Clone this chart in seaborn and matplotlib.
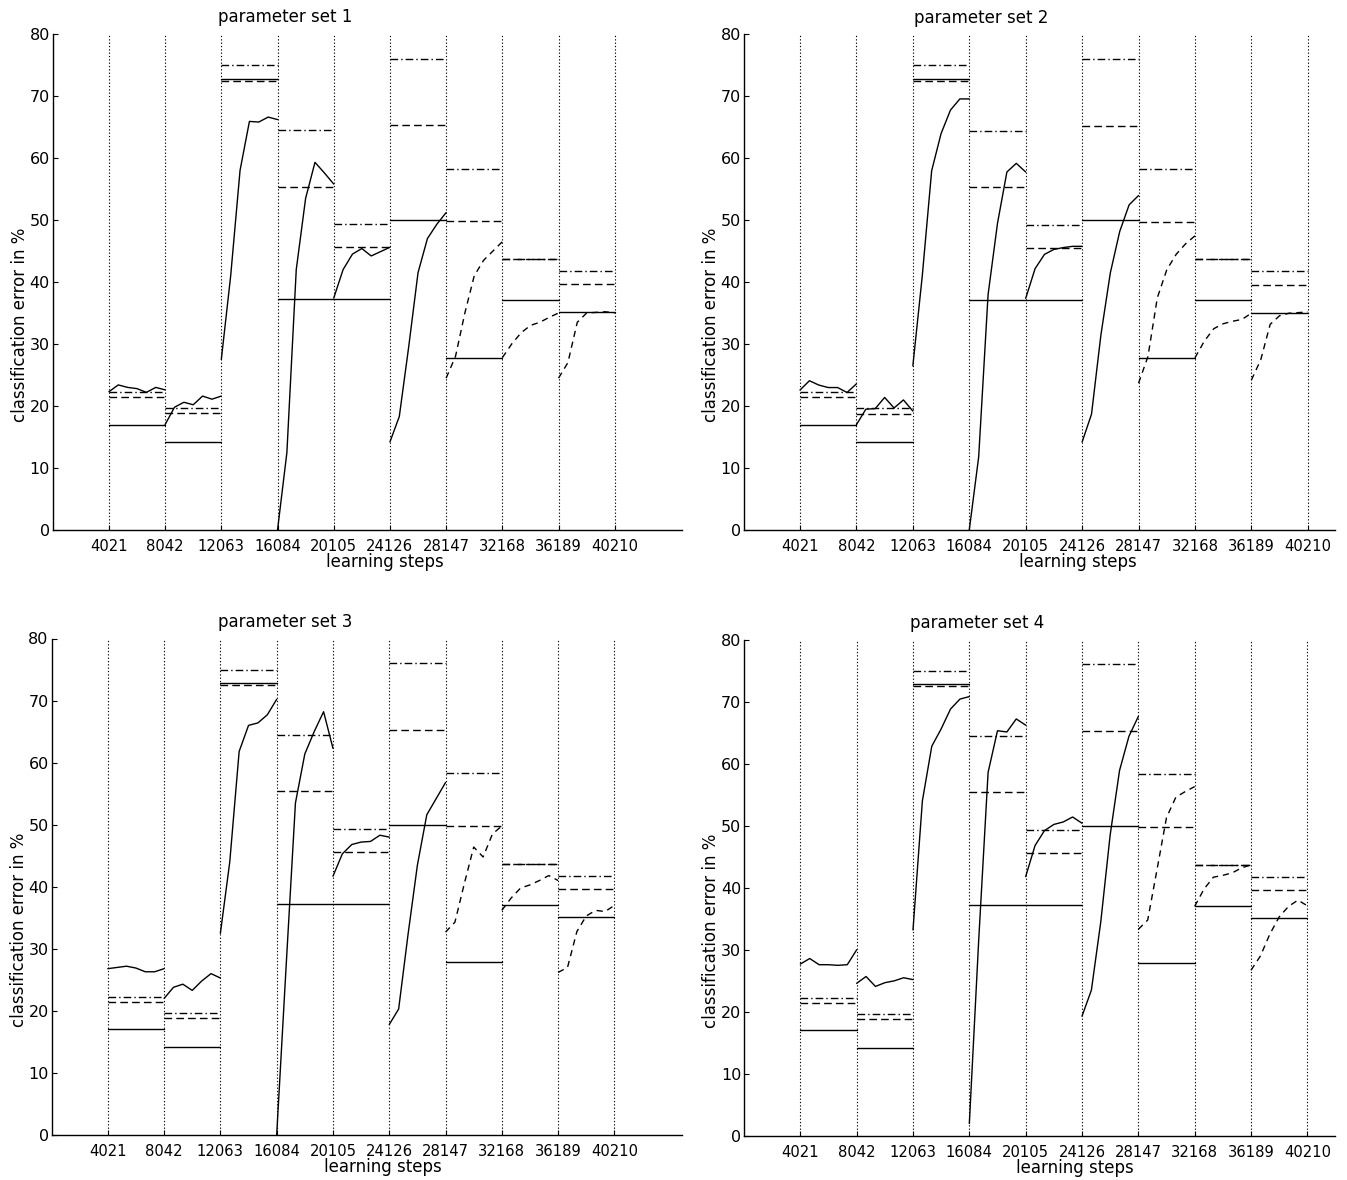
import matplotlib
matplotlib.use("Agg")
import matplotlib.pyplot as plt
import numpy as np
import pandas as pd
import seaborn as sns

# Learning-step boundaries of the training phases (x ticks)
phase_edges = [4021, 8042, 12063, 16084, 20105, 24126, 28147, 32168, 36189, 40210]
tick_labels = ["4021", "8042", "12063", "16084", "20105",
               "24126", "28147", "32168", "36189", "40210"]

# Reference error levels (%) for each of the nine phases
ref_solid = [17.0, 14.2, 72.8, 37.2, 37.2, 50.0, 27.8, 37.1, 35.1]
ref_dashed = [21.5, 18.8, 72.5, 55.4, 45.6, 65.3, 49.8, 43.7, 39.6]
ref_dashdot = [22.3, 19.7, 75.0, 64.5, 49.3, 76.0, 58.3, 43.7, 41.8]

# Line style of the learning curve in each phase
curve_kind = ["curve"] * 6 + ["curve_dashed"] * 3

# Classification error (%) during learning, seven evaluations per phase
set1_curves = [
    [22.3, 23.4, 23.0, 22.8, 22.2, 23.0, 22.6],
    [17.0, 19.8, 20.6, 20.2, 21.6, 21.1, 21.6],
    [27.5, 41.0, 58.0, 65.9, 65.8, 66.6, 66.2],
    [0.0, 12.5, 42.0, 53.5, 59.3, 57.6, 55.8],
    [37.4, 42.0, 44.5, 45.4, 44.2, 44.9, 45.6],
    [14.2, 18.3, 29.5, 41.5, 47.0, 49.3, 51.2],
    [24.5, 28.0, 35.0, 41.0, 43.5, 45.0, 46.5],
    [27.8, 30.0, 31.8, 33.0, 33.5, 34.3, 35.0],
    [24.5, 27.0, 33.5, 35.0, 35.1, 35.2, 35.0],
]
set2_curves = [
    [22.6, 24.1, 23.4, 23.0, 23.0, 22.2, 23.6],
    [17.0, 19.5, 19.6, 21.4, 19.7, 21.0, 19.2],
    [26.5, 41.0, 58.0, 64.0, 67.8, 69.6, 69.6],
    [0.0, 11.8, 38.0, 49.5, 57.8, 59.2, 57.8],
    [37.4, 42.2, 44.5, 45.3, 45.6, 45.8, 45.8],
    [14.2, 18.7, 31.5, 41.5, 48.2, 52.5, 54.0],
    [23.7, 28.0, 37.5, 42.0, 44.5, 46.2, 47.5],
    [27.8, 30.5, 32.5, 33.3, 33.7, 34.0, 35.0],
    [24.2, 27.5, 33.2, 34.6, 35.0, 35.1, 35.2],
]
set3_curves = [
    [26.8, 27.0, 27.2, 26.9, 26.3, 26.3, 26.8],
    [22.0, 23.8, 24.3, 23.3, 24.8, 26.0, 25.3],
    [32.5, 44.0, 61.8, 66.0, 66.4, 67.7, 70.2],
    [0.0, 27.0, 53.5, 61.4, 65.0, 68.2, 62.3],
    [41.7, 45.3, 46.8, 47.2, 47.3, 48.3, 48.0],
    [17.8, 20.3, 32.3, 43.5, 51.6, 54.2, 56.8],
    [32.7, 34.3, 40.5, 46.4, 44.8, 48.5, 49.8],
    [36.2, 38.2, 39.8, 40.3, 41.0, 41.8, 41.0],
    [26.2, 27.0, 32.8, 35.3, 36.2, 36.0, 37.0],
]
set4_curves = [
    [27.7, 28.6, 27.6, 27.6, 27.5, 27.6, 30.0],
    [24.6, 25.7, 24.1, 24.7, 25.0, 25.5, 25.2],
    [33.2, 54.0, 62.8, 65.6, 68.8, 70.4, 70.8],
    [2.0, 31.6, 58.6, 65.3, 65.1, 67.2, 66.2],
    [41.8, 46.8, 49.2, 50.2, 50.6, 51.4, 50.4],
    [19.3, 23.5, 34.5, 48.5, 58.9, 64.4, 67.6],
    [33.3, 34.8, 43.0, 51.3, 54.6, 55.5, 56.3],
    [37.0, 39.8, 41.7, 42.0, 42.4, 43.2, 43.7],
    [26.7, 29.0, 32.5, 35.3, 37.0, 38.0, 37.1],
]

titles = ["parameter set 1", "parameter set 2", "parameter set 3", "parameter set 4"]
all_curves = [set1_curves, set2_curves, set3_curves, set4_curves]


def build_frame(curves):
    rows = []
    refs = (("ref_solid", ref_solid), ("ref_dashed", ref_dashed), ("ref_dashdot", ref_dashdot))
    for i in range(len(phase_edges) - 1):
        x0, x1 = phase_edges[i], phase_edges[i + 1]
        for kind, vals in refs:
            for x in (x0, x1):
                rows.append({"step": x, "error": vals[i], "kind": kind, "unit": f"{kind}_{i}"})
        steps = np.linspace(x0, x1, len(curves[i]))
        for x, y in zip(steps, curves[i]):
            rows.append({"step": x, "error": y, "kind": curve_kind[i], "unit": f"curve_{i}"})
    return pd.DataFrame(rows)


sns.set_style("ticks")
plt.rcParams["font.family"] = ["DejaVu Sans"]
plt.rcParams["lines.scale_dashes"] = False
for key in ("text.color", "axes.labelcolor", "xtick.color", "ytick.color", "axes.edgecolor"):
    plt.rcParams[key] = "black"

dash_map = {
    "ref_solid": "",
    "ref_dashed": (5.5, 3.0),
    "ref_dashdot": (5.5, 2.2, 1.0, 2.2),
    "curve": "",
    "curve_dashed": (4.5, 3.5),
}

W, H = 1347, 1180
# (left, right, top, bottom) in pixels, x upper limit, title x, xlabel x
layout = [
    (52.7, 681.7, 34.0, 530.0, 45000, 0.370, 0.528),
    (743.6, 1335.0, 34.5, 530.0, 42150, 0.402, 0.565),
    (51.5, 681.5, 638.5, 1135.0, 45000, 0.371, 0.526),
    (744.0, 1334.5, 639.5, 1136.0, 42150, 0.395, 0.561),
]

fig = plt.figure(figsize=(W / 100, H / 100), dpi=100)
for curves, title, (l, r, t, b, xmax, tx, lx) in zip(all_curves, titles, layout):
    ax = fig.add_axes([l / W, 1 - b / H, (r - l) / W, (b - t) / H])
    df = build_frame(curves)
    sns.lineplot(data=df, x="step", y="error", units="unit", style="kind",
                 dashes=dash_map, estimator=None, color="black", linewidth=1.0,
                 legend=False, sort=True, ax=ax)
    ax.set_xlim(0, xmax)
    ax.set_ylim(0, 80)
    ax.set_xticks(phase_edges)
    ax.set_xticklabels(tick_labels)
    ax.set_yticks(range(0, 81, 10))
    ax.xaxis.grid(True, linestyle=(0, (0.9, 1.5)), linewidth=0.8, color="black")
    ax.yaxis.grid(False)
    sns.despine(ax=ax)
    for side in ("left", "bottom"):
        ax.spines[side].set_linewidth(1.0)
        ax.spines[side].set_color("black")
    ax.tick_params(axis="both", direction="in", length=3.5, width=0.8, colors="black")
    ax.tick_params(axis="x", labelsize=10.6, pad=6.5)
    ax.tick_params(axis="y", labelsize=11.5, pad=2)

    ax.set_title(title, fontsize=12, x=tx, y=1.024, pad=0, va="baseline", color="black")
    ax.set_xlabel("learning steps", fontsize=12)
    ax.xaxis.label.set_va("baseline")
    ax.xaxis.set_label_coords(lx, -0.075)
    ax.set_ylabel("classification error in %", fontsize=12)
    ax.yaxis.label.set_va("baseline")
    ax.yaxis.set_label_coords(-27.7 / (r - l), 0.414)

fig.savefig("out.png", dpi=100, facecolor="white")
